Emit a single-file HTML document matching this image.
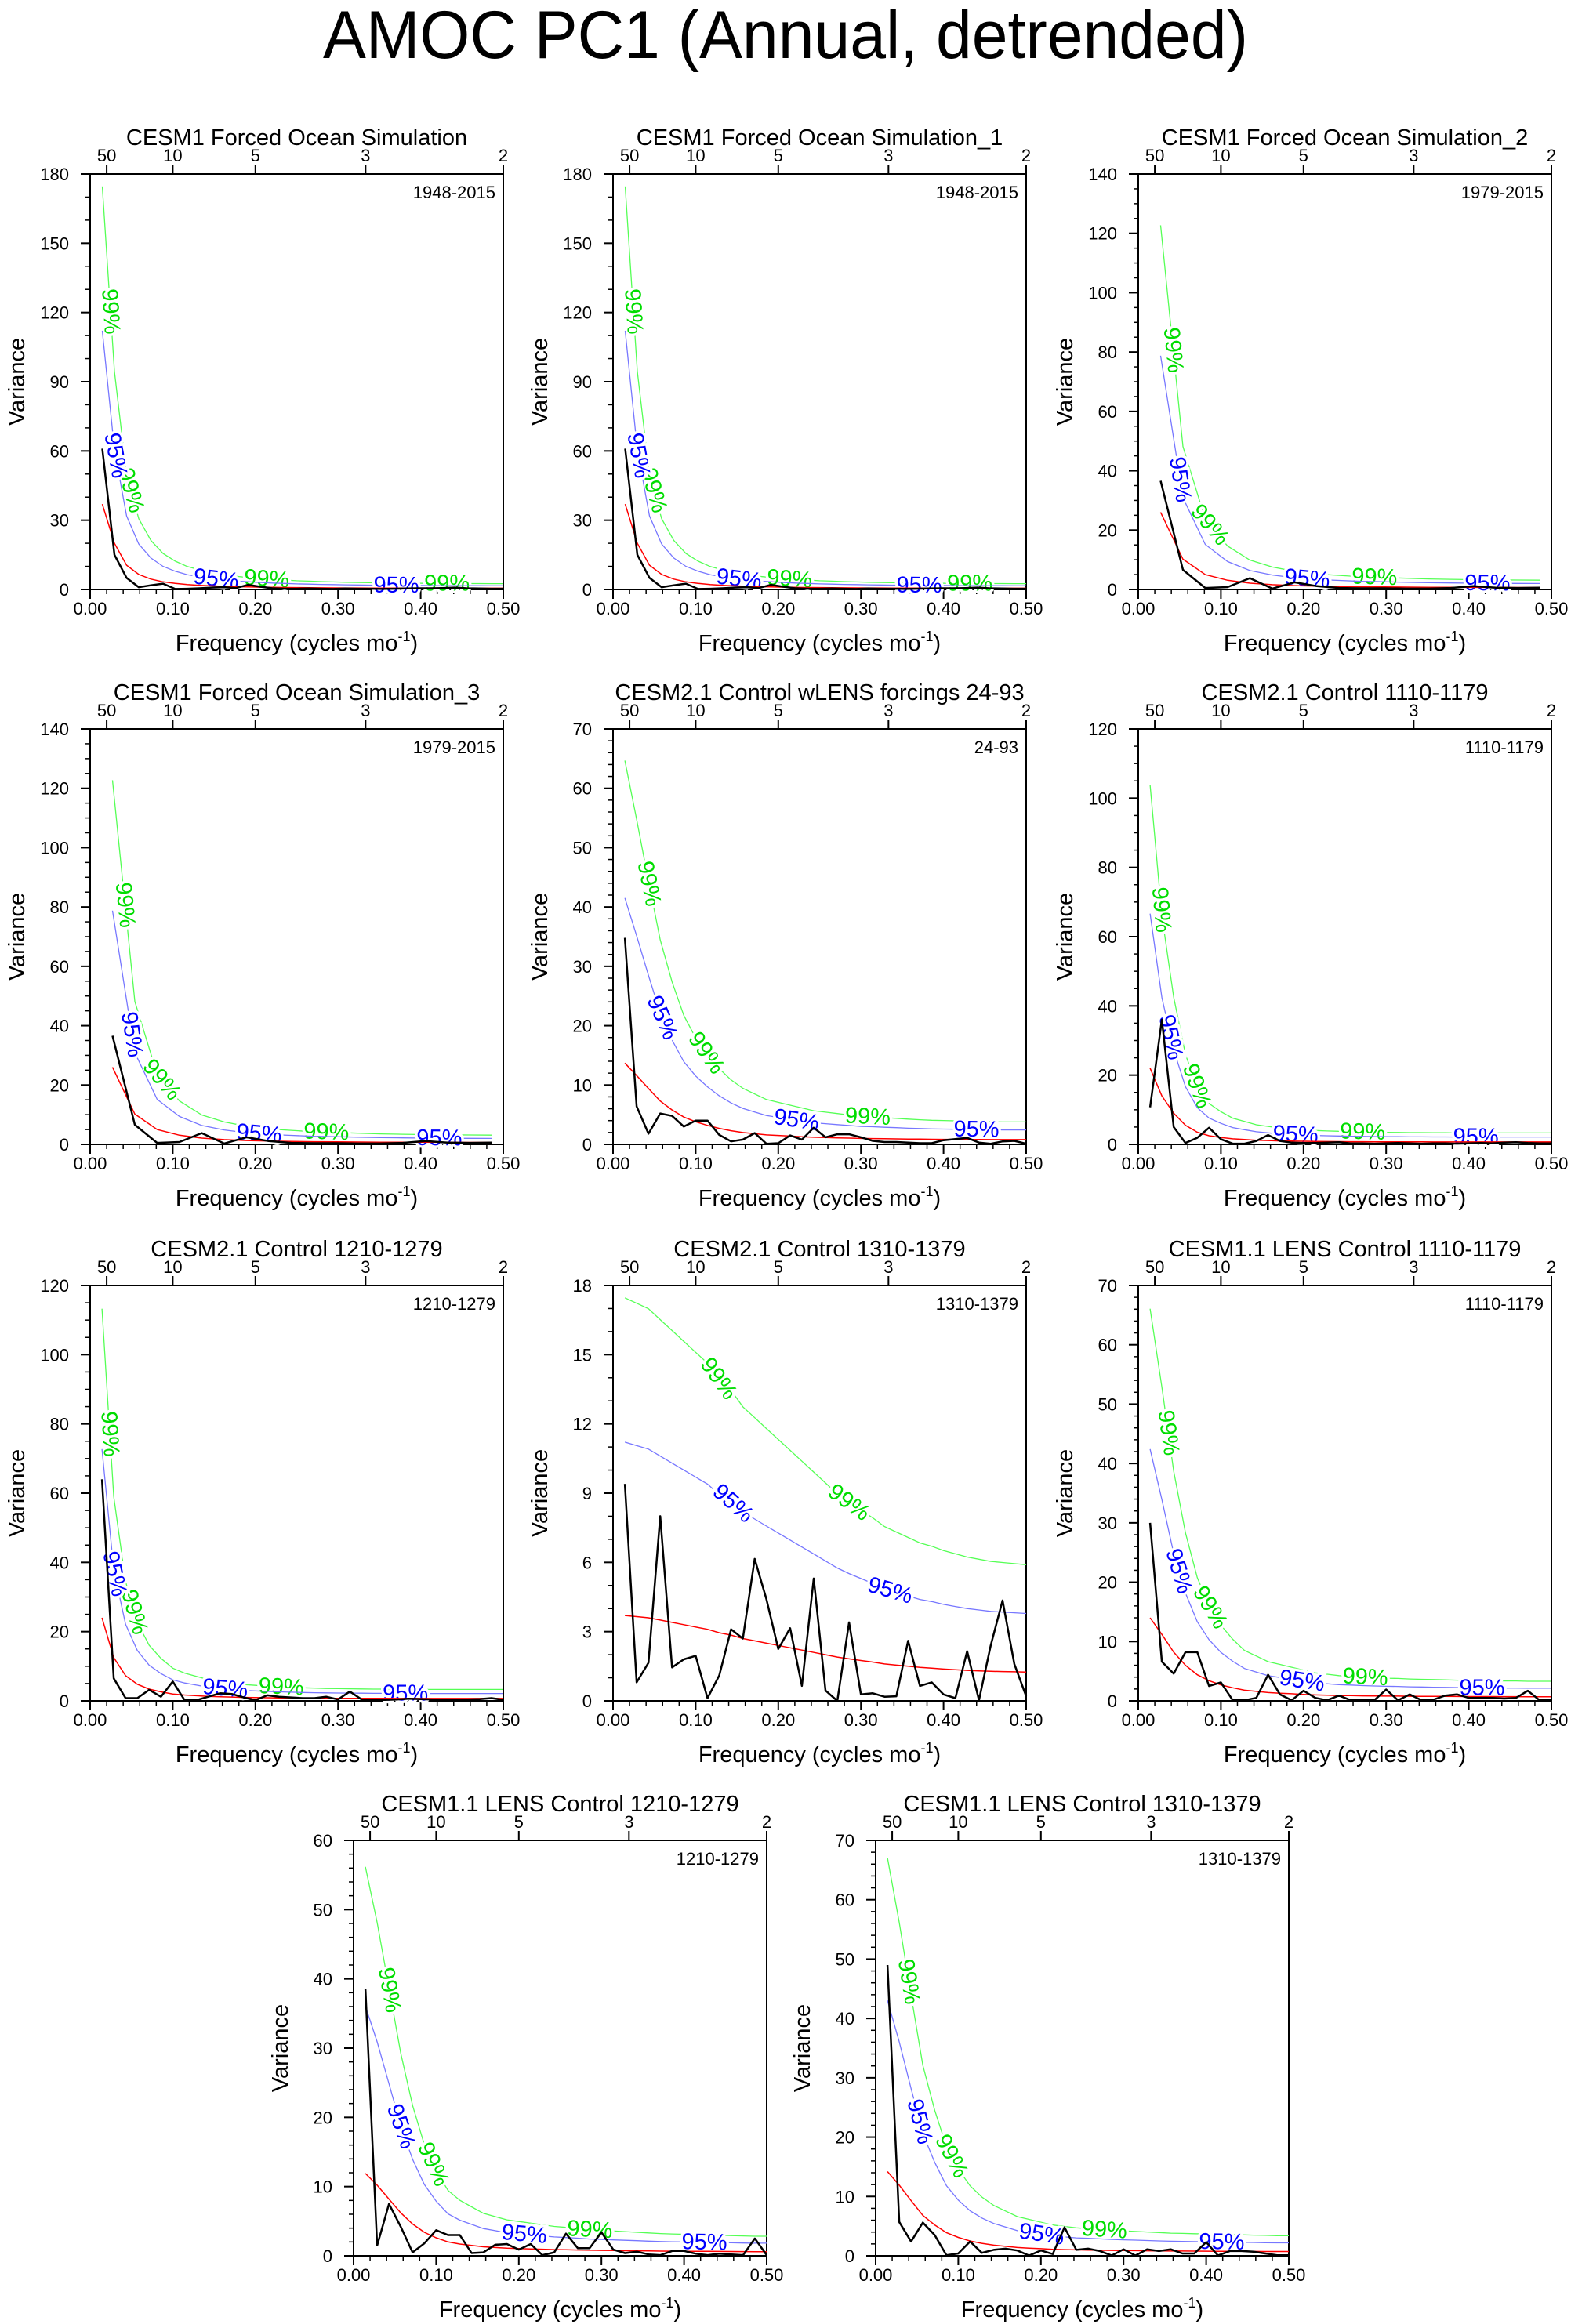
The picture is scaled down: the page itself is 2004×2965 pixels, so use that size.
<!DOCTYPE html>
<html><head><meta charset="utf-8"><title>AMOC PC1 (Annual, detrended)</title>
<style>
html,body{margin:0;padding:0;background:#fff;}
svg{display:block;font-family:"Liberation Sans",Arial,sans-serif;}
</style></head>
<body>
<svg id="fig" xmlns="http://www.w3.org/2000/svg" width="2004" height="2965" viewBox="0 0 2004 2965">
<rect width="2004" height="2965" fill="#fff"/>
<text x="1002" y="74" font-size="86" text-anchor="middle" textLength="1180" lengthAdjust="spacingAndGlyphs">AMOC PC1 (Annual, detrended)</text>
</svg>
<script>
// ---- chart data ----
const panelTitles = ["CESM1 Forced Ocean Simulation","CESM1 Forced Ocean Simulation_1","CESM1 Forced Ocean Simulation_2",
 "CESM1 Forced Ocean Simulation_3","CESM2.1 Control wLENS forcings 24-93","CESM2.1 Control 1110-1179",
 "CESM2.1 Control 1210-1279","CESM2.1 Control 1310-1379","CESM1.1 LENS Control 1110-1179",
 "CESM1.1 LENS Control 1210-1279","CESM1.1 LENS Control 1310-1379"];
const periodLabels = ["1948-2015","1948-2015","1979-2015","1979-2015","24-93","1110-1179","1210-1279","1310-1379","1110-1179","1210-1279","1310-1379"];
const recordYears = [68,68,37,37,70,70,70,70,70,70,70];
const yMax = [180,180,140,140,70,120,120,18,70,60,70];
const yStep = [30,30,20,20,10,20,20,3,10,10,10];
const xTicks = [0,0.1,0.2,0.3,0.4,0.5];
const xTickLabels = ["0.00","0.10","0.20","0.30","0.40","0.50"];
const periodTicks = [50,10,5,3,2];
const conf95Factor = 3.03;
const conf99Factor = 4.72;

const black1 = [61,15,5,1,1.8,2.5,0.2,0.3,0.5,0.8,1,0.6,2,1.2,0.5,0.3,0.3,0.4,0.3,0.2,0.4,0.3,0.3,0.2,0.3,0.4,0.5,0.5,0.6,0.8,0.5,0.4,0.3,0.3];
const red1 = [37,20,10.5,6.5,4.5,3.3,2.6,2.1,1.8,1.55,1.35,1.2,1.1,1.0,0.92,0.86,0.8,0.76,0.72,0.69,0.66,0.64,0.62,0.6,0.59,0.58,0.57,0.56,0.55,0.55,0.54,0.54,0.53,0.53];
const black3 = [36.6,6.6,0.5,0.8,3.8,0.3,2.4,1.1,0.5,0.4,0.4,0.3,0.3,0.5,1.1,0.6,0.5,0.6];
const red3 = [26,10.2,5,3.1,2.1,1.6,1.3,1.1,1.0,0.9,0.85,0.8,0.75,0.72,0.7,0.68,0.67,0.66];
const black5 = [34.8,6.4,1.8,5.2,4.8,3.0,4.0,4.0,1.6,0.5,0.8,1.9,0.1,0.2,1.5,0.8,2.8,1.2,1.7,1.7,1.2,0.6,0.4,0.4,0.3,0.2,0.2,0.7,0.9,1.1,0.3,0.1,0.5,0.6,0.1];
const red5 = [13.7,11.6,9.4,7.3,5.8,4.6,3.8,3.2,2.7,2.3,2.0,1.8,1.6,1.5,1.4,1.3,1.2,1.15,1.1,1.05,1.0,0.98,0.95,0.93,0.9,0.88,0.86,0.85,0.84,0.83,0.82,0.81,0.8,0.8,0.8];
const black6 = [10.7,36,5,0.4,1.9,4.8,1.5,0.2,0.2,1.0,2.7,1.0,0.5,0.4,0.4,0.5,0.6,0.3,0.3,0.2,0.3,0.4,0.3,0.2,0.3,0.3,0.2,0.3,0.4,0.3,0.5,0.6,0.4,0.3,0.3];
const red6 = [22,14,9,5.5,3.5,2.5,2.0,1.6,1.4,1.2,1.1,1.0,0.95,0.9,0.85,0.82,0.8,0.78,0.76,0.75,0.74,0.73,0.72,0.72,0.71,0.71,0.7,0.7,0.7,0.7,0.7,0.7,0.7,0.7,0.7];
const black7 = [64,6.5,0.8,0.8,3.2,1.2,5.6,0.2,0.2,1.2,2.2,2,1,0.2,1.6,1.2,1.0,0.8,0.8,1.2,0.4,2.7,0.4,0.3,0.3,0.4,0.6,0.5,0.4,0.3,0.3,0.4,0.5,0.8,0.3];
const red7 = [24,12.5,7.3,4.8,3.4,2.6,2.0,1.7,1.5,1.3,1.2,1.1,1.0,0.95,0.9,0.86,0.83,0.8,0.78,0.76,0.75,0.74,0.73,0.72,0.72,0.71,0.71,0.7,0.7,0.7,0.7,0.7,0.7,0.7,0.7];
const black8 = [9.4,0.8,1.65,8.0,1.45,1.8,1.95,0.12,1.1,3.1,2.7,6.15,4.4,2.25,3.15,0.65,5.3,0.45,0.0,3.4,0.28,0.33,0.18,0.2,2.6,0.65,0.8,0.28,0.12,2.15,0.03,2.4,4.35,1.6,0.2];
const red8 = [3.7,3.65,3.6,3.5,3.4,3.3,3.2,3.1,2.95,2.85,2.7,2.6,2.5,2.4,2.3,2.2,2.1,2.0,1.9,1.82,1.75,1.68,1.6,1.55,1.5,1.45,1.42,1.38,1.35,1.32,1.3,1.28,1.27,1.26,1.25];
const black9 = [30,6.6,4.6,8.2,8.2,2.5,3.1,0.1,0.1,0.5,4.4,1.1,0.1,1.7,0.5,0.1,0.9,0.1,0.1,0.1,1.9,0.1,1.1,0.1,0.2,0.9,1.1,0.5,0.5,0.5,0.4,0.5,1.7,0.1,0.1];
const red9 = [14,11.2,8.2,6,4.4,3.4,2.7,2.2,1.8,1.6,1.4,1.3,1.2,1.1,1.0,0.95,0.9,0.88,0.85,0.83,0.81,0.8,0.78,0.77,0.76,0.75,0.74,0.73,0.72,0.72,0.71,0.71,0.7,0.7,0.7];
const black10 = [38.6,1.5,7.5,4.2,0.5,1.8,3.7,3.0,3.0,0.4,0.5,1.6,1.7,0.9,1.7,0.1,0.5,3.2,1.1,1.1,3.4,0.9,0.4,0.6,0.2,0.1,0.7,0.7,0.3,0.1,0.3,0.2,0.1,2.5,0.1];
const red10 = [11.9,10.2,8.2,6.2,4.6,3.4,2.6,2.0,1.7,1.5,1.3,1.2,1.1,1.05,1.0,0.95,0.9,0.87,0.84,0.8,0.78,0.76,0.74,0.72,0.7,0.68,0.67,0.66,0.65,0.64,0.63,0.62,0.61,0.6,0.6];
const black11 = [49,5.7,2.4,5.6,3.5,0.1,0.4,2.4,0.5,1.0,1.2,0.9,0.05,0.9,0.3,4.8,1.0,1.2,0.8,0.05,1.1,0.05,1.1,0.8,1.1,0.4,0.4,2.3,0.05,0.8,0.8,0.7,0.4,0.1,0.1];
const red11 = [14.2,11.9,9.3,6.8,5.2,3.9,3.1,2.5,2.1,1.8,1.6,1.4,1.3,1.2,1.1,1.05,1.0,0.97,0.94,0.91,0.89,0.87,0.85,0.83,0.81,0.8,0.79,0.78,0.77,0.76,0.75,0.74,0.73,0.72,0.72];

const blackSeries = [black1,black1,black3,black3,black5,black6,black7,black8,black9,black10,black11];
const redSeries = [red1,red1,red3,red3,red5,red6,red7,red8,red9,red10,red11];

// ---- layout (not data) ----
const layout = [[115,222],[782,222],[1452,222],[115,930],[782,930],[1452,930],[115,1640],[782,1640],[1452,1640],[451,2348],[1117,2348]];
const PW = 527, PH = 530;
const NS = "http://www.w3.org/2000/svg";
const svg = document.getElementById('fig');

function mk(tag, attrs, parent, text){
  const e = document.createElementNS(NS, tag);
  for (const k in attrs) e.setAttribute(k, attrs[k]);
  if (text !== undefined) e.textContent = text;
  parent.appendChild(e);
  return e;
}

function drawCurveWithLabels(g, pts, color, width, label, labelColor){
  const d = pts.map((p,i)=>(i?'L':'M')+p[0].toFixed(1)+' '+p[1].toFixed(1)).join(' ');
  const path = mk('path',{d:d,fill:'none',stroke:color,'stroke-width':width},g);
  
  
  if(!label) return;
  const cum=[0];
  for(let i=1;i<pts.length;i++) cum.push(cum[i-1]+Math.hypot(pts[i][0]-pts[i-1][0],pts[i][1]-pts[i-1][1]));
  const L = cum[cum.length-1];
  for(let s=160; s<L-60; s+=230){
    let i=1; while(i<cum.length-1 && cum[i]<s) i++;
    const t=(s-cum[i-1])/(cum[i]-cum[i-1]||1);
    const x=pts[i-1][0]+t*(pts[i][0]-pts[i-1][0]);
    const y=pts[i-1][1]+t*(pts[i][1]-pts[i-1][1]);
    const ang=Math.atan2(pts[i][1]-pts[i-1][1],pts[i][0]-pts[i-1][0])*180/Math.PI;
    const tx = mk('text',{x:0,y:0,transform:`translate(${x.toFixed(1)},${y.toFixed(1)}) rotate(${ang.toFixed(1)})`,
      'font-size':29,fill:labelColor,'text-anchor':'middle','dominant-baseline':'central',
      stroke:'#fff','stroke-width':7,'paint-order':'stroke'},g,label);
    
    
  }
}

for(let p=0;p<panelTitles.length;p++){
  const [L,T] = layout[p];
  const g = mk('g',{},svg);
  
  
  const ym = yMax[p];
  const xs = f => L + f/0.5*PW;
  const ys = v => T + PH - v/ym*PH;
  const n = blackSeries[p].length;
  const freqs = [];
  for(let k=1;k<=n;k++) freqs.push(k/recordYears[p]);

  const tt = mk('text',{x:L+PW/2,y:T-37,'font-size':29,'text-anchor':'middle'},g,panelTitles[p]);
  
  
  const fr = mk('rect',{x:L,y:T,width:PW,height:PH,fill:'none',stroke:'#000','stroke-width':2},g);
  
  
  for(let i=0;i<xTicks.length;i++){
    const x=xs(xTicks[i]);
    mk('line',{x1:x,x2:x,y1:T+PH,y2:T+PH+12,stroke:'#000','stroke-width':2},g);
    const lb = mk('text',{x:x,y:T+PH+32,'font-size':22,'text-anchor':'middle'},g,xTickLabels[i]);
    
    
  }
  for(let f=0.02; f<0.5; f+=0.02){
    if(Math.abs(f*10-Math.round(f*10))<1e-6) continue;
    const x=xs(f);
    mk('line',{x1:x,x2:x,y1:T+PH,y2:T+PH+6,stroke:'#000','stroke-width':1.5},g);
  }
  for(const per of periodTicks){
    const x=xs(1/per);
    mk('line',{x1:x,x2:x,y1:T,y2:T-12,stroke:'#000','stroke-width':2},g);
    const lb = mk('text',{x:x,y:T-16,'font-size':22,'text-anchor':'middle'},g,String(per));
    
    
  }
  const st=yStep[p];
  const minorDiv = (st===3||st===30)?3:(st===20?4:5);
  for(let v=0; v<=ym+1e-9; v+=st){
    const y=ys(v);
    mk('line',{x1:L,x2:L-12,y1:y,y2:y,stroke:'#000','stroke-width':2},g);
    const lb = mk('text',{x:L-27,y:y+8,'font-size':22,'text-anchor':'end'},g,String(Math.round(v)));
    
    
    for(let m=1;m<minorDiv && v+st<=ym+1e-9;m++){
      const yy=ys(v+st*m/minorDiv);
      mk('line',{x1:L,x2:L-6,y1:yy,y2:yy,stroke:'#000','stroke-width':1.5},g);
    }
  }
  const xt = mk('text',{x:L+PW/2,y:T+PH+78,'font-size':29,'text-anchor':'middle'},g);
  
  
  xt.appendChild(document.createTextNode('Frequency (cycles mo'));
  mk('tspan',{'font-size':18,dy:-12},xt,'-1');
  mk('tspan',{dy:12},xt,')');
  const yt = mk('text',{x:0,y:0,transform:`translate(${L-84},${T+PH/2}) rotate(-90)`,'font-size':29,'text-anchor':'middle'},g,'Variance');
  
  
  const pl = mk('text',{x:L+PW-10,y:T+31,'font-size':22,'text-anchor':'end'},g,periodLabels[p]);
  
  

  const red = redSeries[p];
  const redPts = freqs.map((f,i)=>[xs(f),ys(red[i])]);
  const p95 = freqs.map((f,i)=>[xs(f),ys(red[i]*conf95Factor)]);
  const p99 = freqs.map((f,i)=>[xs(f),ys(red[i]*conf99Factor)]);
  const blk = freqs.map((f,i)=>[xs(f),ys(blackSeries[p][i])]);
  drawCurveWithLabels(g,p99,'#5f5',1.3,'99%','#0d0');
  drawCurveWithLabels(g,p95,'#77f',1.3,'95%','#00f');
  const rp = mk('path',{d:redPts.map((q,i)=>(i?'L':'M')+q[0].toFixed(1)+' '+q[1].toFixed(1)).join(' '),fill:'none',stroke:'#f00','stroke-width':1.5},g);
  
  
  const bp = mk('path',{d:blk.map((q,i)=>(i?'L':'M')+q[0].toFixed(1)+' '+q[1].toFixed(1)).join(' '),fill:'none',stroke:'#000','stroke-width':2.5,'stroke-linejoin':'round'},g);
  
  
}
</script>
</body></html>
